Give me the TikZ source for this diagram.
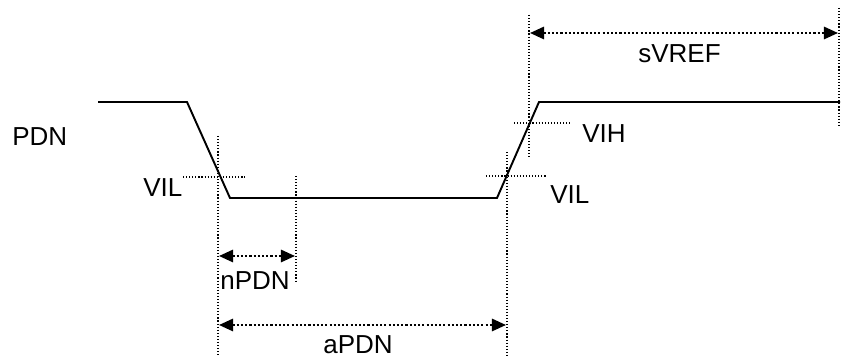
\documentclass[tikz,border=0pt]{standalone}
\usepackage{fontspec}
\setmainfont{Liberation Sans}
\usetikzlibrary{arrows.meta,positioning}

\begin{document}
\begin{tikzpicture}[x=0.02cm, y=-0.02cm,
                    signal/.style={line width=1.1pt, black},
                    guide/.style={line width=0.65pt, black, dash pattern=on 0.65pt off 1.1pt},
                    dim/.style={line width=1.2pt, black, dash pattern=on 1.2pt off 1.2pt,
                                {Triangle[length=8pt,width=7pt]}-{Triangle[length=8pt,width=7pt]}},
                    lbl/.style={inner sep=0pt, anchor=base west, font=\fontsize{14.8}{17}\selectfont},
                   ]

\useasboundingbox (0,0) rectangle (852,357);

% waveform
\coordinate (h0) at (98,102);
\coordinate (f0) at (187,102);
\coordinate (f1) at (230,198);
\coordinate (r0) at (497,198);
\coordinate (r1) at (539,102);
\coordinate (h1) at (840,102);

\draw[signal] (h0) -- (f0) -- (f1) -- (r0) -- (r1) -- (h1);

% timing guides
\draw[guide] (218,136) -- (218,357);
\draw[guide] (296,176) -- (296,282);
\draw[guide] (507,152) -- (507,357);
\draw[guide] (529,15) -- (529,157);
\draw[guide] (839,8) -- (839,127);

% level guides
\draw[guide] (183,177) -- (245,177);
\draw[guide] (514,123) -- (572,123);
\draw[guide] (486,176) -- (547,176);

% dimensions
\coordinate (n0) at (219,256);
\coordinate (n1) at (295,256);
\coordinate (a0) at (219,325);
\coordinate (a1) at (506,325);
\coordinate (s0) at (530,33);
\coordinate (s1) at (838,33);

\draw[dim] (n0) -- (n1);
\draw[dim] (a0) -- (a1);
\draw[dim] (s0) -- (s1);

% labels
\node[lbl] (pdn) at (12,146) {PDN};
\node[lbl] (vil) at (143,197) {VIL};
\node[lbl] (npdn) at (220,290) {nPDN};
\node[lbl] (apdn) at (323,354) {aPDN};
\node[lbl] (svref) at (638,63) {sVREF};
\node[lbl] (vih) at (582,143) {VIH};
\node[lbl] (vil2) at (550,204) {VIL};

\end{tikzpicture}
\end{document}
